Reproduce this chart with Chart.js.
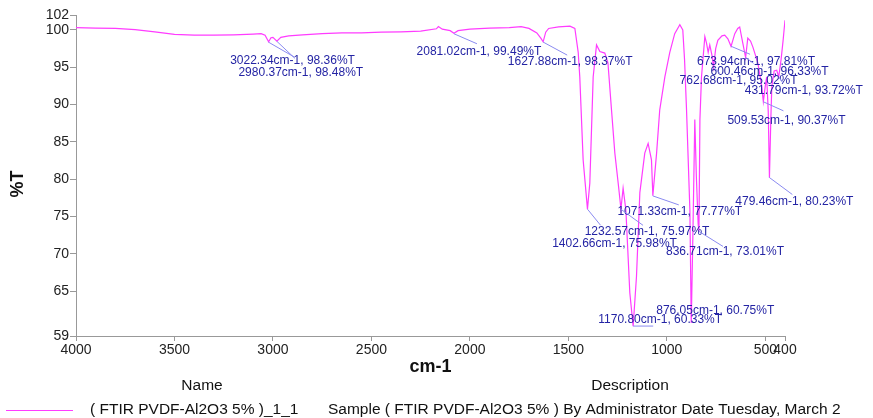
<!DOCTYPE html>
<html lang="en">
<head>
  <meta charset="UTF-8">
  <title>FTIR PVDF-Al2O3 5%</title>
  <script src="https://cdn.jsdelivr.net/npm/chart.js"></script>
  <style>
    html, body { margin: 0; padding: 0; background: #fff; }
    #wrap { position: relative; width: 873px; height: 418px; }
  </style>
</head>
<body>
  <div id="wrap"><canvas id="ftirChart"></canvas></div>

  <script>
    // spectrum (cm-1 and %T)
    const wavenumber = [
      4000, 3900, 3800, 3700, 3600, 3500, 3400, 3300, 3200, 3100,
      3060, 3040, 3022, 3010, 3000, 2980, 2960, 2920, 2850, 2750,
      2650, 2550, 2450, 2350, 2250, 2170, 2160, 2140, 2100, 2081,
      2060, 2000, 1900, 1800, 1740, 1700, 1660, 1640, 1628, 1615,
      1600, 1550, 1492, 1467, 1450, 1442, 1425, 1403, 1391, 1374,
      1357, 1340, 1315, 1299, 1281, 1264, 1245, 1233, 1222, 1208,
      1188, 1171, 1154, 1137, 1112, 1095, 1078, 1071, 1052, 1036,
      1010, 985, 960, 934, 919, 910, 900, 883, 876, 867,
      858, 850, 841, 837, 832, 824, 807, 799, 790, 782,
      770, 763, 752, 741, 720, 706, 690, 674, 655, 640,
      630, 620, 614, 600, 589, 575, 563, 538, 518, 510,
      500, 493, 485, 479, 472, 467, 455, 442, 432, 420,
      410, 400
    ];
    const transmittance = [
      100.3, 100.25, 100.2, 100.05, 99.75, 99.4, 99.3, 99.3, 99.35, 99.45,
      99.5, 99.3, 98.4, 98.95, 99.0, 98.5, 99.0, 99.2, 99.35, 99.5,
      99.6, 99.6, 99.7, 99.75, 99.85, 100.15, 100.45, 100.1, 99.9, 99.55,
      99.9, 100.1, 100.25, 100.3, 100.45, 100.2, 99.6, 98.9, 98.4, 99.7,
      100.2, 100.4, 100.5, 100.2, 97.0, 93.7, 82.6, 76.0, 79.5, 93.7,
      98.0, 97.1, 96.9, 95.6, 89.3, 83.5, 79.0, 76.0, 78.8, 75.9,
      64.8, 60.3, 67.0, 78.2, 83.5, 84.8, 82.6, 77.8, 83.5, 89.3,
      93.7, 97.0, 99.5, 100.7, 100.0, 96.0, 89.3, 75.9, 60.75, 73.6,
      88.0, 80.3, 74.0, 73.0, 88.0, 93.7, 99.1, 98.3, 97.0, 98.0,
      96.5, 95.0, 97.5, 98.6, 99.2, 99.3, 98.8, 97.8, 99.5, 100.2,
      100.4, 99.0, 98.2, 96.3, 98.9, 98.5, 97.7, 95.6, 92.4, 90.4,
      92.5, 93.7, 89.0, 80.2, 88.0, 92.4, 94.5, 94.6, 93.7, 96.0,
      98.5, 101.3
    ];

    const xTicks = [4000, 3500, 3000, 2500, 2000, 1500, 1000, 500, 400];
    const yTicks = [59, 65, 70, 75, 80, 85, 90, 95, 100, 102];

    // picked peaks
    const peakWn = [3022.34, 2980.37, 2081.02, 1627.88, 673.94, 600.46, 762.68, 431.79,
                    509.53, 479.46, 1071.33, 1232.57, 1402.66, 836.71, 876.05, 1170.80];
    const peakT = [98.36, 98.48, 99.49, 98.37, 97.81, 96.33, 95.02, 93.72,
                   90.37, 80.23, 77.77, 75.97, 75.98, 73.01, 60.75, 60.33];

    // label placement: px offset from the peak to the text centre / to the leader end
    const labelOffset = [[24, 19], [24, 31], [25, 18], [27, 20], [25, 15], [24, 14], [25, 14], [25, 14],
                         [23, 19], [25, 24], [27, 16], [26, 22], [27, 34], [26, 20], [24, -12], [27, -6]];
    const leaderOffset = [[26, 15], [18, 17], [23, 10], [24, 13], [19, 8], [8, 6], [6, 6], [4, 6],
                          [20, 9], [23, 17], [26, 9], [22, 16], [13, 16], [24, 15], null, [20, 0]];

    const seriesName = '( FTIR PVDF-Al2O3 5% )_1_1';
    const seriesDesc = 'Sample ( FTIR PVDF-Al2O3 5% ) By Administrator Date Tuesday, March 2';

    const FONT = "'Liberation Sans', Arial, sans-serif";
    const LINE_COLOR = '#ff3cff';

    const peakLabels = {
      id: 'peakLabels',
      afterDatasetsDraw(chart) {
        const { ctx, scales: { x, y } } = chart;
        ctx.save();
        ctx.font = '12px ' + FONT;
        ctx.textAlign = 'center';
        ctx.textBaseline = 'middle';
        peakWn.forEach((wn, i) => {
          const px = x.getPixelForValue(wn);
          const py = y.getPixelForValue(peakT[i]);
          const lo = leaderOffset[i];
          if (lo) {
            ctx.strokeStyle = '#8a8af0';
            ctx.lineWidth = 1;
            ctx.beginPath();
            ctx.moveTo(px, py);
            ctx.lineTo(px + lo[0], py + lo[1]);
            ctx.stroke();
          }
          ctx.fillStyle = '#2424a4';
          ctx.fillText(wn.toFixed(2) + 'cm-1, ' + peakT[i].toFixed(2) + '%T',
                       px + labelOffset[i][0], py + labelOffset[i][1]);
        });
        ctx.restore();
      }
    };

    // y title sits a bit below the axis middle, plus the Name / Description table
    const extraText = {
      id: 'extraText',
      afterDraw(chart) {
        const ctx = chart.ctx;
        ctx.save();
        ctx.fillStyle = '#111';
        ctx.textBaseline = 'middle';
        ctx.textAlign = 'center';

        ctx.save();
        ctx.translate(18, 184);
        ctx.rotate(-Math.PI / 2);
        ctx.font = 'bold 18px ' + FONT;
        ctx.fillText('%T', 0, 0);
        ctx.restore();

        ctx.font = '15.5px ' + FONT;
        ctx.fillText('Name', 202, 386);
        ctx.fillText('Description', 630, 386);
        ctx.textAlign = 'left';
        ctx.fillText(seriesName, 90, 410);
        ctx.fillText(seriesDesc, 328, 410);
        ctx.strokeStyle = LINE_COLOR;
        ctx.lineWidth = 1;
        ctx.beginPath();
        ctx.moveTo(6, 410.5);
        ctx.lineTo(73, 410.5);
        ctx.stroke();
        ctx.restore();
      }
    };

    const ctx = document.getElementById('ftirChart').getContext('2d');
    new Chart(ctx, {
      type: 'line',
      data: {
        datasets: [{
          label: seriesName,
          data: wavenumber.map((w, i) => ({ x: w, y: transmittance[i] })),
          borderColor: LINE_COLOR,
          borderWidth: 1.2,
          pointRadius: 0,
          tension: 0,
          fill: false
        }]
      },
      options: {
        responsive: true,
        maintainAspectRatio: false,
        animation: false,
        layout: { padding: { left: 0, top: 15, right: 88, bottom: 40 } },
        plugins: {
          legend: { display: false },
          tooltip: { enabled: false }
        },
        scales: {
          x: {
            type: 'linear',
            reverse: true,
            min: 400,
            max: 4000,
            afterBuildTicks: s => { s.ticks = xTicks.map(v => ({ value: v })); },
            afterFit: s => { s.height = 42; },
            grid: { drawOnChartArea: false, drawTicks: true, tickLength: 5, color: '#999' },
            border: { display: true, color: '#999' },
            ticks: {
              autoSkip: false,
              maxRotation: 0,
              padding: 1,
              color: '#222',
              font: { family: FONT, size: 14 },
              callback: v => String(v)
            },
            title: {
              display: true,
              text: 'cm-1',
              color: '#111',
              padding: { top: 0, bottom: 0 },
              font: { family: FONT, size: 18, weight: 'bold' }
            }
          },
          y: {
            min: 59,
            max: 102,
            afterBuildTicks: s => { s.ticks = yTicks.map(v => ({ value: v })); },
            afterFit: s => { s.width = 76; },
            grid: { drawOnChartArea: false, drawTicks: true, tickLength: 6, color: '#999' },
            border: { display: true, color: '#999' },
            ticks: {
              autoSkip: false,
              padding: 1,
              color: '#222',
              font: { family: FONT, size: 14 },
              callback: v => String(v)
            },
            title: { display: false }
          }
        }
      },
      plugins: [peakLabels, extraText]
    });
  </script>
</body>
</html>
